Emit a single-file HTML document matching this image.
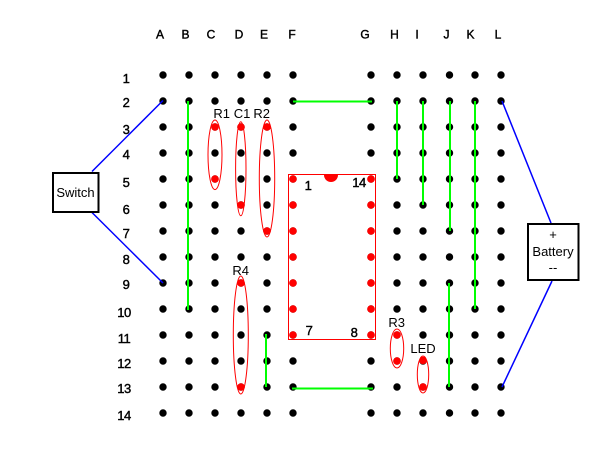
<!DOCTYPE html>
<html>
<head>
<meta charset="utf-8">
<style>
html,body{margin:0;padding:0;background:#fff;width:600px;height:450px;overflow:hidden}
svg{display:block}
text{font-family:"Liberation Sans",sans-serif;font-size:12px;fill:#000}
.s{font-size:13px}
.b{stroke:#000;stroke-width:.4px}
.n{font-size:13px;letter-spacing:-.5px;stroke:#000;stroke-width:.4px}
.m{text-anchor:middle}
</style>
</head>
<body>
<svg width="600" height="450" viewBox="0 0 600 450" xmlns="http://www.w3.org/2000/svg">
<rect width="600" height="450" fill="#fff"/>
<!-- holes -->
<g stroke="#000" stroke-width="7.400" stroke-linecap="round" stroke-dasharray="0 26" fill="none">
<path d="M163 75V414M189 75V414M215 75V414M241 75V414M267 75V414M293 75V414M371 75V414M397 75V414M423 75V414M449.500 75V414M475 75V414M501 75V414"/>
</g>
<!-- red pins -->
<g fill="#f00">
<circle cx="215" cy="127" r="3.800"/><circle cx="215" cy="179" r="3.800"/>
<circle cx="241" cy="127" r="3.800"/><circle cx="241" cy="205" r="3.800"/>
<circle cx="267" cy="127" r="3.800"/><circle cx="267" cy="231" r="3.800"/>
<circle cx="241" cy="283" r="3.800"/><circle cx="241" cy="387" r="3.800"/>
<circle cx="397" cy="335" r="3.800"/><circle cx="397" cy="361" r="3.800"/>
<circle cx="423" cy="360.500" r="3.800"/><circle cx="423" cy="387" r="3.800"/>
<circle cx="293" cy="179" r="3.800"/><circle cx="293" cy="205" r="3.800"/><circle cx="293" cy="231" r="3.800"/><circle cx="293" cy="257" r="3.800"/><circle cx="293" cy="283" r="3.800"/><circle cx="293" cy="309" r="3.800"/><circle cx="293" cy="335" r="3.800"/>
<circle cx="371" cy="179" r="3.800"/><circle cx="371" cy="205" r="3.800"/><circle cx="371" cy="231" r="3.800"/><circle cx="371" cy="257" r="3.800"/><circle cx="371" cy="283" r="3.800"/><circle cx="371" cy="309" r="3.800"/><circle cx="371" cy="335" r="3.800"/>
<path d="M324 175h14a7 7 0 0 1-14 0z"/>
</g>
<!-- IC -->
<rect x="288.500" y="174.500" width="87" height="165" fill="none" stroke="#f00" stroke-width="1"/>
<!-- component ellipses -->
<g fill="none" stroke="#f00" stroke-width="1">
<ellipse cx="215" cy="154.800" rx="7" ry="34.800"/>
<ellipse cx="240.800" cy="168.700" rx="5.200" ry="47"/>
<ellipse cx="267" cy="178.500" rx="7.700" ry="58.500"/>
<ellipse cx="240.800" cy="335" rx="7.500" ry="59"/>
<ellipse cx="397" cy="348.500" rx="6.700" ry="19.500"/>
<ellipse cx="423" cy="374.500" rx="5.700" ry="18.500"/>
</g>
<!-- green wires -->
<g stroke="#0f0" stroke-width="2" fill="none">
<path d="M188 101V310"/>
<path d="M293 101.500H372"/>
<path d="M397 101V179"/>
<path d="M423 101V205"/>
<path d="M450 101V231"/>
<path d="M475 101V309"/>
<path d="M449 283V387"/>
<path d="M266 334V387"/>
<path d="M292 388.500H373"/>
</g>
<!-- blue wires -->
<g stroke="#00f" stroke-width="1.500" fill="none">
<path d="M92 171.500L163 100.500"/>
<path d="M92 212.500L163 283"/>
<path d="M502 101L551 223"/>
<path d="M552 281L502 387"/>
</g>
<!-- boxes -->
<rect x="53" y="173" width="45.500" height="39" fill="#fff" stroke="#000" stroke-width="2"/>
<rect x="528" y="224" width="50.500" height="56" fill="#fff" stroke="#000" stroke-width="2"/>
<text class="s m" x="75.500" y="197">Switch</text>
<text class="s m" x="553" y="239">+</text>
<text class="s m" x="553" y="256">Battery</text>
<text class="s m" x="553" y="272">--</text>
<!-- column labels -->
<text class="b m" x="160" y="38.500">A</text>
<text class="b m" x="185.500" y="38.500">B</text>
<text class="b m" x="211" y="38.500">C</text>
<text class="b m" x="239" y="38.500">D</text>
<text class="b m" x="264" y="38.500">E</text>
<text class="b m" x="292" y="38.500">F</text>
<text class="b m" x="365" y="38.500">G</text>
<text class="b m" x="394.500" y="38.500">H</text>
<text class="b m" x="417" y="38.500">I</text>
<text class="b m" x="446.500" y="38.500">J</text>
<text class="b m" x="470.500" y="38.500">K</text>
<text class="b m" x="498" y="38.500">L</text>
<!-- row labels -->
<text class="n m" x="126" y="83">1</text>
<text class="n m" x="126" y="107">2</text>
<text class="n m" x="126" y="134">3</text>
<text class="n m" x="126" y="159">4</text>
<text class="n m" x="126" y="187">5</text>
<text class="n m" x="126" y="214">6</text>
<text class="n m" x="126" y="238">7</text>
<text class="n m" x="126" y="264">8</text>
<text class="n m" x="126" y="289">9</text>
<text class="n m" x="124" y="317">10</text>
<text class="n m" x="124" y="343">11</text>
<text class="n m" x="124" y="368">12</text>
<text class="n m" x="124" y="393">13</text>
<text class="n m" x="124" y="420">14</text>
<!-- component labels -->
<text class="s m" x="221.700" y="118">R1</text>
<text class="s m" x="242" y="118">C1</text>
<text class="s m" x="261.700" y="118">R2</text>
<text class="s m" x="240.700" y="275">R4</text>
<text class="s m" x="396.700" y="327">R3</text>
<text class="s m" x="423" y="353">LED</text>
<text class="n m" x="308" y="190">1</text>
<text class="n m" x="359" y="187">14</text>
<text class="n m" x="309" y="335">7</text>
<text class="n m" x="354" y="337">8</text>
</svg>
</body>
</html>
